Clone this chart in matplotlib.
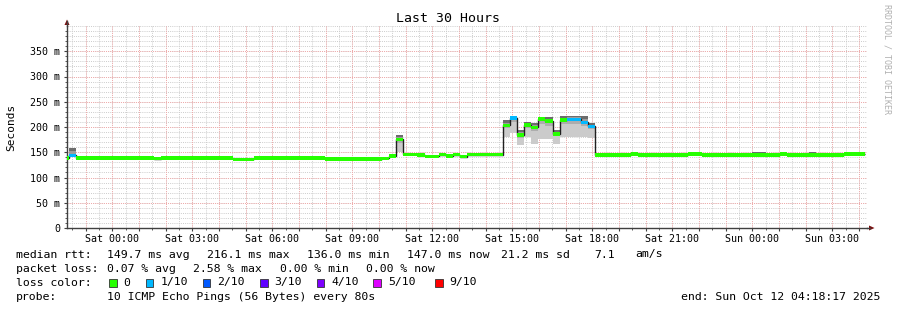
import matplotlib
matplotlib.use('Agg')
import matplotlib.pyplot as plt
import numpy as np
from matplotlib.patches import Polygon, Rectangle

W, H = 897, 310
MONO = 'DejaVu Sans Mono'

# ---------------- data ----------------
title = 'Last 30 Hours'
y_label = 'Seconds'
window_hours = 30
step_minutes = 16
first_step_hour = 0.075 - 16 / 60          # hour offset (from window start) of first step
first_label_hour = 1.6953                   # Sat 00:00 relative to window start (Fri 22:18:17)
x_tick_labels = ['Sat 00:00', 'Sat 03:00', 'Sat 06:00', 'Sat 09:00', 'Sat 12:00',
                 'Sat 15:00', 'Sat 18:00', 'Sat 21:00', 'Sun 00:00', 'Sun 03:00']
y_tick_values = [0, 50, 100, 150, 200, 250, 300, 350]
y_tick_labels = ['0', '50 m', '100 m', '150 m', '200 m', '250 m', '300 m', '350 m']

# median rtt per 16-minute step (ms)
median_ms = [138.5, 144.0,
             138.5, 138.5, 138.5, 138.5, 138.5, 138.5, 138.5, 138.5, 138.5, 138.5, 138.5,
             137.5,
             138.5, 138.5, 138.5, 138.5, 138.5, 138.5, 138.5, 138.5, 138.5, 138.5,
             136.0, 136.0, 136.0,
             138.5, 138.5, 138.5, 138.5, 138.5, 138.5, 138.5, 138.5, 138.5, 138.5,
             136.5, 136.5, 136.5, 136.5, 136.5, 136.5, 136.5, 136.5,
             138.0, 143.0, 175.5, 146.0, 146.0, 144.5, 142.0, 142.0, 145.5, 142.5, 145.5, 141.5,
             145.5, 145.5, 145.5, 145.5, 145.5,
             203.0, 217.5, 184.0, 203.7, 199.3, 216.0, 211.6, 186.3, 213.6, 215.0, 215.0, 209.0, 201.0,
             144.5, 144.5, 144.5, 144.5, 144.5,
             146.5,
             144.5, 144.5, 144.5, 144.5, 144.5, 144.5, 144.5,
             146.5, 146.5,
             144.5, 144.5, 144.5, 144.5, 144.5, 144.5, 144.5, 144.5, 144.5, 144.5, 144.5,
             146.5,
             144.5, 144.5, 144.5, 144.5, 144.5, 144.5, 144.5, 144.5,
             147.0, 147.0, 147.0]
# steps (index into median_ms) that had packet loss 1/10
loss_steps = [1, 63, 71, 72, 73, 74]

# smoke (min / max ping) for steps with visible spread
smoke_steps = [1, 43, 46, 47, 62, 63, 64, 65, 66, 67, 68, 69, 70, 71, 72, 73, 74, 89, 97, 98, 105]
smoke_lo = [140, 136, 141, 150, 180, 188, 164, 180, 167, 177, 177, 167, 180, 180, 180, 180, 178, 144, 144, 144, 144]
smoke_hi = [158, 140, 147, 185, 213, 222, 194, 209, 207, 220, 219, 194, 222, 222, 222, 222, 207, 150, 150, 150, 150]

loss_names = ['0', '1/10', '2/10', '3/10', '4/10', '5/10', '9/10']
loss_colors = ['#26ff00', '#00b8ff', '#0059ff', '#5e00ff', '#7e00ff', '#dd00ff', '#ff0000']

stats_rtt = ['149.7 ms avg', '216.1 ms max', '136.0 ms min', '147.0 ms now', '21.2 ms sd', '7.1', 'am/s']
stats_rtt_x = [107.3, 207.3, 307.3, 407.3, 500.7, 594, 635]
stats_loss = ['0.07 % avg', '2.58 % max', '0.00 % min', '0.00 % now']
probe_text = '10 ICMP Echo Pings (56 Bytes) every 80s'
end_text = 'end: Sun Oct 12 04:18:17 2025'

# ---------------- figure ----------------
fig = plt.figure(figsize=(W / 100, H / 100), dpi=100)
fig.patch.set_facecolor('white')

def fx(x):
    return x / W

def fy(y):
    return 1 - y / H

L, R, T, B = 67, 867, 26, 228
ax = fig.add_axes([fx(L), fy(B), fx(R) - fx(L), fy(T) - fy(B)])
ax.set_facecolor('white')
ax.set_xlim(0, window_hours)
ax.set_ylim(0, 400)

step_h = step_minutes / 60
n = len(median_ms)
edges = first_step_hour + step_h * np.arange(n + 1)
starts = edges[:-1]
med = np.array(median_ms)

# grid
maj_x = np.arange(first_label_hour - 1, window_hours, 1.0)
min_x = np.arange(first_label_hour - 1.5, window_hours, 0.5)
label_x = first_label_hour + 3 * np.arange(len(x_tick_labels))
ax.set_xticks(maj_x)
ax.set_xticks(min_x, minor=True)
ax.set_xticklabels(['' for _ in maj_x])
ax.set_yticks(y_tick_values)
ax.set_yticklabels(y_tick_labels, fontfamily=MONO, fontsize=7.2)
ax.set_yticks(np.arange(0, 400, 10), minor=True)
for v in min_x:
    ax.axvline(v, color='#cccccc', lw=0.7, ls=(0, (1, 1.2)), zorder=0)
for v in np.arange(0, 401, 10):
    ax.axhline(v, color='#cccccc', lw=0.7, ls=(0, (1, 1.2)), zorder=0)
for v in maj_x:
    ax.axvline(v, color='#f3a8a8', lw=0.7, ls=(0, (1, 1.2)), zorder=0.5)
for v in y_tick_values[1:]:
    ax.axhline(v, color='#f3a8a8', lw=0.7, ls=(0, (1, 1.2)), zorder=0.5)

for xl, lab in zip(label_x, x_tick_labels):
    ax.text(xl, -0.028, lab, transform=ax.get_xaxis_transform(), ha='center', va='top',
            fontfamily=MONO, fontsize=7.2, color='black', clip_on=False)

# smoke
idx = np.array(smoke_steps)
lo = np.array(smoke_lo, float)
hi = np.array(smoke_hi, float)
m_s = med[idx]
below = np.clip(m_s - lo, 0, None)
above = np.clip(hi - m_s, 0, None)
ax.bar(starts[idx], below, bottom=lo, width=step_h, align='edge', color='#cbcbcb',
       linewidth=0, antialiased=False, zorder=2)
ax.bar(starts[idx], below * 0.25, bottom=m_s - below * 0.25,
       width=step_h, align='edge', color='#adadad', linewidth=0, antialiased=False, zorder=2.1)
ax.bar(starts[idx], above, bottom=m_s, width=step_h, align='edge', color='#9c9c9c',
       linewidth=0, antialiased=False, zorder=2)
ax.bar(starts[idx], above * 0.45, bottom=hi - above * 0.45, width=step_h, align='edge',
       color='#6c6c6c', linewidth=0, antialiased=False, zorder=2.1)

# median line (black) and loss-colour band
ax.stairs(med, edges, baseline=None, color='#202020', lw=1.0, zorder=3)
colors = [loss_colors[1] if i in loss_steps else loss_colors[0] for i in range(n)]
ax.bar(starts, 7.0, bottom=med - 3.5, width=step_h, align='edge', color=colors,
       linewidth=0, antialiased=False, zorder=4)

# axes styling
for s in ['top', 'right']:
    ax.spines[s].set_visible(False)
ax.spines['left'].set_color('#404040')
ax.spines['bottom'].set_color('#404040')
ax.spines['left'].set_linewidth(1.0)
ax.spines['bottom'].set_linewidth(1.0)
ax.tick_params(axis='both', which='major', length=2.2, width=0.8, color='#404040', pad=2.5)
ax.tick_params(axis='both', which='minor', length=1.5, width=0.6, color='#404040')
ax.tick_params(axis='x', which='major', pad=0)

# axis extensions + arrows
fig.add_artist(plt.Line2D([fx(L), fx(L)], [fy(T), fy(21)], color='#404040', lw=1.0))
fig.add_artist(plt.Line2D([fx(R), fx(870)], [fy(B), fy(B)], color='#404040', lw=1.0))
fig.add_artist(Polygon([[fx(64.5), fy(25)], [fx(69.5), fy(25)], [fx(67), fy(19.5)]],
                       closed=True, color='#7a1010', lw=0))
fig.add_artist(Polygon([[fx(869), fy(225.5)], [fx(869), fy(230.5)], [fx(874.5), fy(228)]],
                       closed=True, color='#7a1010', lw=0))

# texts
fig.text(fx(448), fy(19), title, ha='center', va='center', fontfamily=MONO, fontsize=9.5)
fig.text(fx(11), fy(127), y_label, ha='center', va='center', rotation=90,
         fontfamily=MONO, fontsize=8)
fig.text(fx(887), fy(4), 'RRDTOOL / TOBI OETIKER', ha='center', va='top', rotation=270,
         fontfamily=MONO, fontsize=6.0, color='#b0b0b0')

fs = 8.25
rows = [254.5, 268.5, 282.5, 296.5]
fig.text(fx(16), fy(rows[0]), 'median rtt:', ha='left', va='center', fontfamily=MONO, fontsize=fs)
for x0, s in zip(stats_rtt_x, stats_rtt):
    fig.text(fx(x0), fy(rows[0]), s, ha='left', va='center', fontfamily=MONO, fontsize=fs)
fig.text(fx(16), fy(rows[1]), 'packet loss:', ha='left', va='center', fontfamily=MONO, fontsize=fs)
for i, s in enumerate(stats_loss):
    fig.text(fx(107.3 + 86.1 * i), fy(rows[1]), s, ha='left', va='center', fontfamily=MONO, fontsize=fs)
fig.text(fx(16), fy(rows[2]), 'loss color:', ha='left', va='center', fontfamily=MONO, fontsize=fs)
sq_x = [109, 145.7, 202.7, 260, 316.7, 373.3, 435]
for x0, c, name in zip(sq_x, loss_colors, loss_names):
    fig.add_artist(Rectangle((fx(x0), fy(rows[2] + 4)), 7.5 / W, 7.5 / H, facecolor=c,
                             edgecolor='#333333', lw=0.6))
    fig.text(fx(x0 + 14.5), fy(rows[2]), name, ha='left', va='center', fontfamily=MONO, fontsize=fs)
fig.text(fx(16), fy(rows[3]), 'probe:', ha='left', va='center', fontfamily=MONO, fontsize=fs)
fig.text(fx(107.3), fy(rows[3]), probe_text, ha='left', va='center', fontfamily=MONO, fontsize=fs)
fig.text(fx(880.5), fy(rows[3]), end_text, ha='right', va='center', fontfamily=MONO, fontsize=fs)

fig.savefig('out.png', dpi=100, facecolor='white')
